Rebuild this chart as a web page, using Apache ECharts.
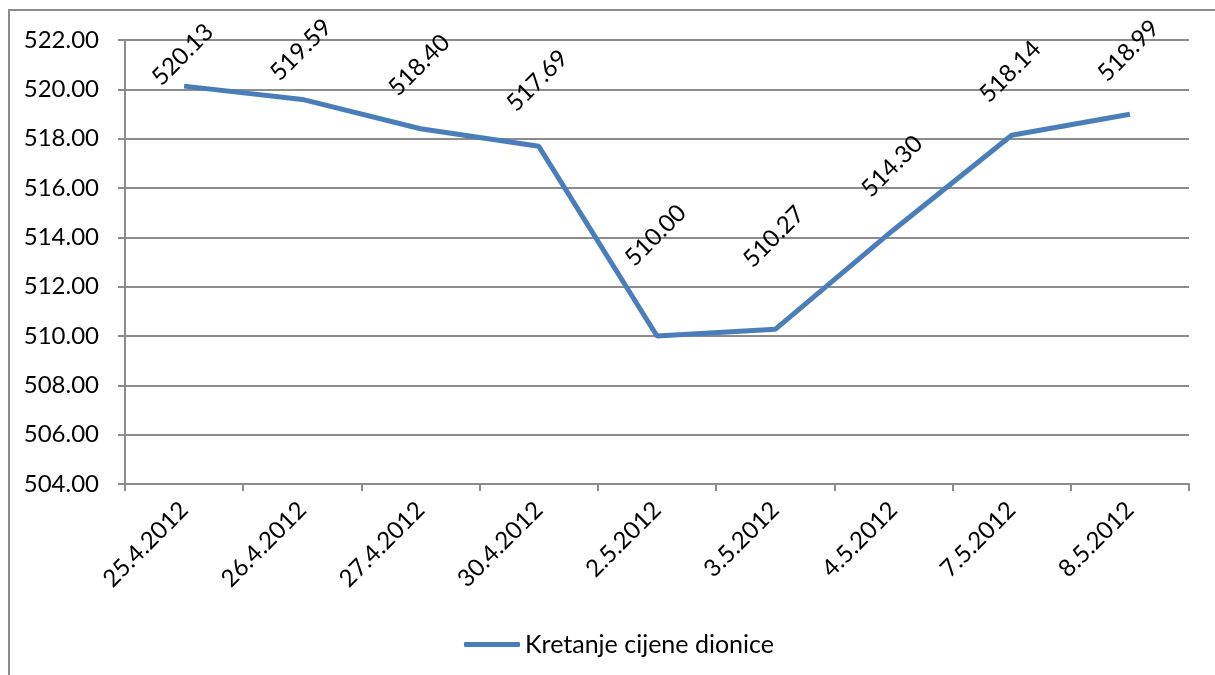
<!DOCTYPE html>
<html>
<head>
<meta charset="utf-8">
<script src="https://cdn.jsdelivr.net/npm/echarts@6/dist/echarts.min.js"></script>
<style>
  html, body { margin: 0; padding: 0; background: #fff; }
  #chart { width: 1215px; height: 675px; }
</style>
</head>
<body>
<div id="chart"></div>
<script>
  // datumi trgovanja
  var dates = ['25.4.2012', '26.4.2012', '27.4.2012', '30.4.2012', '2.5.2012', '3.5.2012', '4.5.2012', '7.5.2012', '8.5.2012'];
  // cijena dionice
  var prices = [520.13, 519.59, 518.40, 517.69, 510.00, 510.27, 514.30, 518.14, 518.99];
  var seriesName = 'Kretanje cijene dionice';
  var yMin = 504, yMax = 522, yStep = 2;
  // koliko je natpis iznad tocke (px), kao u originalu
  var labelLift = [26, 44, 58, 60, 95, 87, 58, 58, 58];

  var font = 'Lato, "Open Sans", sans-serif';
  var gridColor = '#8c8c8c';
  var lineColor = '#4a7ebb';

  var seriesData = prices.map(function (v, i) {
    return { value: v, label: { distance: labelLift[i] - 10 } };
  });

  var chart = echarts.init(document.getElementById('chart'));
  chart.setOption({
    animation: false,
    textStyle: { fontFamily: font },
    graphic: [{
      type: 'rect',
      shape: { x: 9, y: 10, width: 1220, height: 700 },
      style: { fill: 'none', stroke: '#8c8c8c', lineWidth: 2 },
      silent: true
    }],
    grid: { left: 125, right: 26, top: 40, bottom: 191 },
    legend: {
      left: 459,
      top: 627,
      icon: 'roundRect',
      itemWidth: 56,
      itemHeight: 5,
      itemStyle: { color: lineColor },
      textStyle: { fontSize: 25, color: '#000', fontFamily: font },
      data: [seriesName]
    },
    xAxis: {
      type: 'category',
      data: dates,
      boundaryGap: true,
      axisLine: { lineStyle: { color: gridColor, width: 2 } },
      axisTick: { show: true, length: 7, alignWithLabel: false, lineStyle: { color: gridColor, width: 2 } },
      axisLabel: { rotate: 45, margin: 22, fontSize: 24, color: '#000', fontFamily: font, interval: 0 }
    },
    yAxis: {
      type: 'value',
      min: yMin,
      max: yMax,
      interval: yStep,
      axisLine: { show: true, lineStyle: { color: gridColor, width: 2 } },
      axisTick: { show: true, length: 7, lineStyle: { color: gridColor, width: 2 } },
      splitLine: { lineStyle: { color: gridColor, width: 2 } },
      axisLabel: {
        margin: 26, fontSize: 24, color: '#000', fontFamily: font,
        formatter: function (v) { return v.toFixed(2); }
      }
    },
    series: [{
      name: seriesName,
      type: 'line',
      data: seriesData,
      symbol: 'circle',
      symbolSize: 0,
      showSymbol: true,
      itemStyle: { color: lineColor },
      lineStyle: { color: lineColor, width: 5 },
      label: {
        show: true,
        position: 'top',
        offset: [10, 0],
        rotate: 45,
        fontSize: 24,
        color: '#000',
        fontFamily: font,
        formatter: function (p) { return p.value.toFixed(2); }
      }
    }]
  });
</script>
</body>
</html>
